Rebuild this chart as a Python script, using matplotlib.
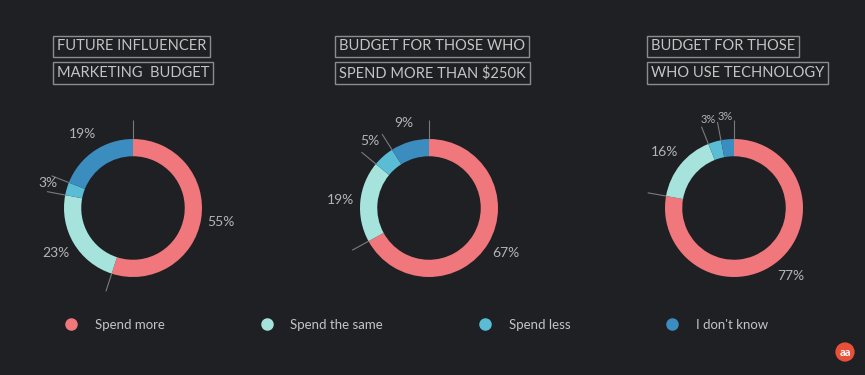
import matplotlib.pyplot as plt
import numpy as np
from matplotlib.lines import Line2D

plt.rcParams['font.family'] = ['Lato', 'DejaVu Sans']

categories = ['Spend more', 'Spend the same', 'Spend less', "I don't know"]
colors = ['#f0777c', '#a6e3dc', '#5bbcd6', '#3c8dbf']

titles = [['FUTURE INFLUENCER', 'MARKETING  BUDGET'],
          ['BUDGET FOR THOSE WHO', 'SPEND MORE THAN $250K'],
          ['BUDGET FOR THOSE', 'WHO USE TECHNOLOGY']]
future_budget = [55, 23, 3, 19]
over_250k = [67, 19, 5, 9]
use_tech = [77, 16, 3, 3]
series = [future_budget, over_250k, use_tech]

bg = '#1f2024'
W, H = 865, 375
fig = plt.figure(figsize=(8.65, 3.75), dpi=100, facecolor=bg)

centers = [133, 429, 734]
title_left = [52, 334, 646]
R = 69
L = 1.5
size = 2 * L * R

for cx, tl, vals, ttl in zip(centers, title_left, series, titles):
    ax = fig.add_axes([(cx - size / 2) / W, (H - 208 - size / 2) / H, size / W, size / H])
    ax.set_facecolor(bg)
    wedges, _ = ax.pie(vals, colors=colors, startangle=90, counterclock=False,
                       radius=1, wedgeprops=dict(width=0.25, edgecolor='none'))
    tiny = sum(1 for v in vals if v <= 3) > 1
    for w, v in zip(wedges, vals):
        # leader line at wedge boundary
        a = np.deg2rad(w.theta2)
        ax.plot([np.cos(a), 1.27 * np.cos(a)], [np.sin(a), 1.27 * np.sin(a)],
                color='#7a7a7a', lw=0.8, solid_capstyle='butt')
        m = np.deg2rad((w.theta1 + w.theta2) / 2)
        small = tiny and v <= 3
        r = 1.33 if small else 1.29
        ax.text(r * np.cos(m), r * np.sin(m), f'{v}%', ha='center', va='center',
                color='#b4b4b4', fontsize=8 if small else 10)
    ax.set_xlim(-L, L)
    ax.set_ylim(-L, L)
    ax.set_aspect('equal')
    ax.axis('off')

    for i, line in enumerate(ttl):
        yc = [46.5, 73][i]
        fig.text((tl + 5) / W, (H - yc) / H, line, ha='left', va='center',
                 color='#c4c4c4', fontsize=10.5,
                 bbox=dict(boxstyle='square,pad=0.27', fc='none', ec='#8c8c8c', lw=1))

handles = [Line2D([], [], marker='o', ls='none', color=c, markersize=8) for c in colors]
leg = fig.legend(handles, categories, loc='center left', bbox_to_anchor=(53 / W, (H - 325) / H),
                 ncol=4, frameon=False, handlelength=1, handletextpad=1.3,
                 columnspacing=7.2, fontsize=9.5)
for t in leg.get_texts():
    t.set_color('#c4c4c4')

fig.text(845 / W, (H - 352) / H, 'aa', ha='center', va='center', color='white',
         fontsize=8, fontweight='bold',
         bbox=dict(boxstyle='circle,pad=0.35', fc='#e8503a', ec='none'))

fig.savefig('out.png', dpi=100, facecolor=bg)
